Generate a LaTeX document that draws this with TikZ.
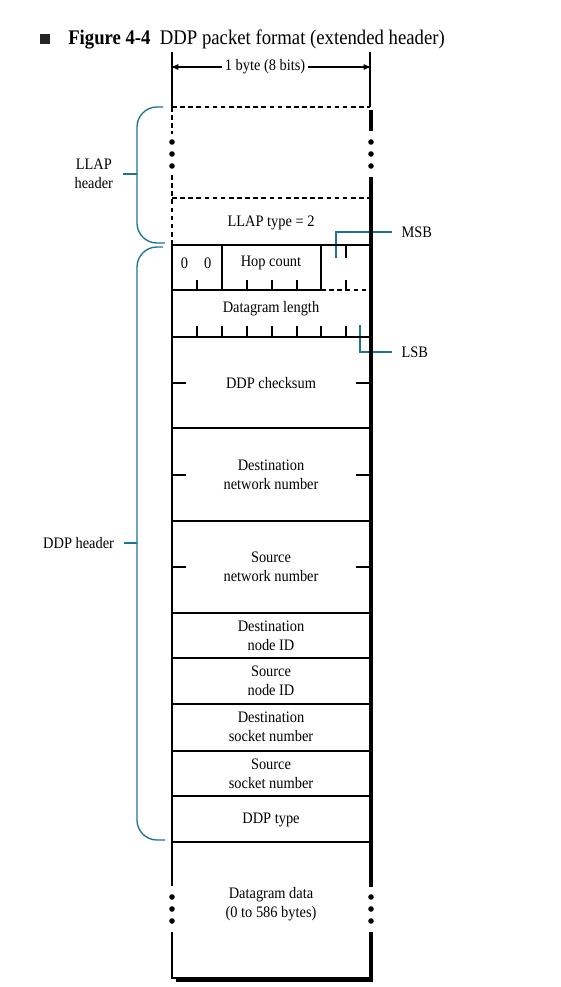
\documentclass[tikz,border=0pt]{standalone}
\usepackage{fontspec}
\setmainfont[FakeStretch=0.9]{Liberation Serif}
\usetikzlibrary{arrows,positioning}
\definecolor{bracecol}{RGB}{30,115,145}
\tikzset{
    box/.style={line width=0.9pt},
    dashbox/.style={line width=0.9pt,dash pattern=on 3.5pt off 2.6pt},
    shadow/.style={line width=2.4pt},
    bittick/.style={line width=0.8pt},
    brace/.style={draw=bracecol,line width=1pt,rounded corners=15pt},
    lead/.style={draw=bracecol,line width=1pt},
    field/.style={font=\fontsize{12}{14.2}\selectfont,align=center,inner sep=0pt}
}

\begin{document}
\begin{tikzpicture}[x=0.75pt,y=-0.75pt]
\useasboundingbox (0,0) rectangle (560,987);

\node[fill=black!85,minimum size=7.5pt,inner sep=0pt] (bullet) at (45,39) {};
\node[anchor=west,inner sep=0pt,font=\fontsize{15.6}{18}\selectfont] (title) at (68,39)
    {\textbf{Figure 4-4}\hspace{0.45em}DDP packet format (extended header)};

\draw[box] (172,52)--(172,107);
\draw[box] (370,52)--(370,107);
\coordinate (byteL) at (172,67);
\coordinate (byteR) at (370,67);
\node[field,inner xsep=2pt] (byte) at (265,67) {1 byte (8 bits)};
\draw[->,thick, >=stealth'] (byte)--(byteL);
\draw[->,thick, >=stealth'] (byte)--(byteR);

\coordinate (msbbit) at (336,258);
\coordinate (lsbbit) at (360,325);
\node[field,anchor=west,inner xsep=7pt] (msb) at (392,232) {MSB};
\node[field,anchor=west,inner xsep=7pt] (lsb) at (392,352) {LSB};
\draw[lead] (msbbit) |- (msb.west);
\draw[lead] (lsbbit) |- (lsb.west);

\draw[dashbox] (172,107)--(370,107);
\draw[dashbox] (172,198)--(370,198);
\draw[dashbox] (172,107)--(172,134);
\draw[dashbox] (172,175)--(172,245);
\draw[shadow] (371,110)--(371,131);
\draw[shadow] (371,177)--(371,887);
\draw[shadow] (371,932)--(371,981.7);
\draw[shadow] (176,980.5)--(372.2,980.5);
\foreach \y in {142,154,166,897,909,921}{
    \fill (172,\y) circle (2.1pt);
    \fill (371,\y) circle (2.1pt);
}
\node[field] (llaptype) at (271,223) {LLAP type = 2};

\draw[box] (172,245)--(370,245);
\draw[box] (172,290)--(321,290);
\draw[dashbox] (321,290)--(370,290);
\draw[box] (222,245)--(222,290);
\draw[box] (321,245)--(321,290);
\node[field] (zeros) at (196,263) {0\hspace{12pt}0};
\node[field] (hop) at (271,263) {Hop count};
\foreach \x in {197,247,272,297,346}
    \draw[bittick] (\x,290)--(\x,280);
\draw[bittick] (346,245)--(346,258);

\draw[box] (172,337)--(370,337);
\node[field] (dglen) at (271,309) {Datagram length};
\foreach \x in {197,222,247,272,297,321,346}
    \draw[bittick] (\x,337)--(\x,326);

\foreach \y in {428,521,613,658,704,751,796,842}
    \draw[box] (172,\y)--(370,\y);
\foreach \y in {383,475,567}{
    \draw[bittick] (172,\y)--(186,\y);
    \draw[bittick] (356,\y)--(370,\y);
}
\node[field] (cksum) at (271,383) {DDP checksum};
\node[field] (dstnet) at (271,475) {Destination\\network number};
\node[field] (srcnet) at (271,567) {Source\\network number};
\node[field] (dstnode) at (271,636) {Destination\\node ID};
\node[field] (srcnode) at (271,681) {Source\\node ID};
\node[field] (dstsock) at (271,727) {Destination\\socket number};
\node[field] (srcsock) at (271,774) {Source\\socket number};
\node[field] (ddptype) at (271,820) {DDP type};
\node[field] (data) at (271,904) {Datagram data\\(0 to 586 bytes)};

\draw[box] (172,245)--(172,886);
\draw[box] (172,932)--(172,978)--(370,978);

\draw[brace] (163,107)--(137,107)--(137,243)--(165,243);
\draw[brace] (163,247)--(137,247)--(137,840)--(165,840);
\coordinate (llapmid) at (137,174);
\coordinate (ddpmid) at (137,543);
\draw[lead] (llapmid)--++(-14,0) node[field,left=7pt] (llaplbl) {LLAP\\header};
\draw[lead] (ddpmid)--++(-13,0) node[field,left=7pt] (ddplbl) {DDP header};

\end{tikzpicture}
\end{document}
